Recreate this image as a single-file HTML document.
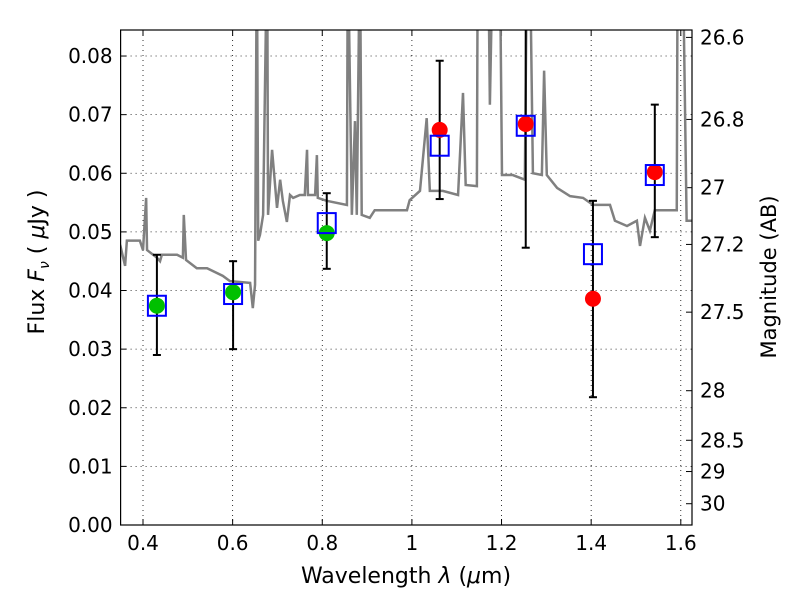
<!DOCTYPE html>
<html><head><meta charset="utf-8"><style>
body{margin:0;background:#fff}
svg text{font-family:"DejaVu Sans","Liberation Sans",sans-serif;fill:#000}
</style></head><body>
<svg id="c" width="800" height="600"></svg>
<script>
const specW=[0.349,0.360,0.364,0.393,0.400,0.407,0.409,0.431,0.438,0.442,0.476,0.489,0.491,0.496,0.520,0.543,0.578,0.594,0.639,0.645,0.650,0.654,0.657,0.661,0.668,0.677,0.679,0.688,0.699,0.706,0.712,0.721,0.728,0.735,0.750,0.761,0.766,0.768,0.784,0.788,0.790,0.810,0.855,0.857,0.866,0.873,0.877,0.884,0.888,0.906,0.917,0.944,0.973,0.989,0.995,1.018,1.033,1.040,1.069,1.103,1.114,1.120,1.145,1.147,1.170,1.174,1.181,1.196,1.201,1.225,1.252,1.257,1.263,1.270,1.290,1.295,1.301,1.324,1.353,1.382,1.404,1.442,1.453,1.480,1.502,1.509,1.520,1.531,1.542,1.560,1.591,1.593,1.604,1.613,1.627];
const specF=[0.0478,0.0442,0.0485,0.0485,0.0469,0.0558,0.0469,0.0456,0.0450,0.0461,0.0461,0.0456,0.0529,0.0452,0.0438,0.0438,0.0425,0.0416,0.0413,0.0370,0.0410,0.1,0.0485,0.0495,0.0529,0.1,0.0529,0.0640,0.0541,0.0589,0.0553,0.0517,0.0563,0.0558,0.0563,0.0563,0.0640,0.0563,0.0563,0.0631,0.0558,0.0553,0.0546,0.1,0.0529,0.0689,0.0529,0.1,0.0529,0.0524,0.0537,0.0537,0.0537,0.0537,0.0554,0.0570,0.0694,0.0570,0.0570,0.0563,0.0737,0.0580,0.0578,0.1,0.1,0.0717,0.1,0.1,0.0597,0.0597,0.0589,0.1,0.1,0.0600,0.0597,0.0775,0.0597,0.0575,0.0561,0.0558,0.0546,0.0546,0.0519,0.0510,0.0519,0.0476,0.0524,0.0502,0.0537,0.0537,0.0537,0.1,0.1,0.0519,0.0519];
const bandW=[0.431,0.601,0.810,1.062,1.254,1.404,1.542];
const modelF=[0.0374,0.0394,0.0515,0.0647,0.0681,0.0462,0.0597];
const errHi=[0.0461,0.0450,0.0566,0.0792,0.0900,0.0553,0.0717];
const errLo=[0.0290,0.0300,0.0437,0.0556,0.0473,0.0218,0.0491];
const greenW=[0.431,0.601,0.810];
const greenF=[0.0374,0.0397,0.0498];
const redW=[1.062,1.254,1.404,1.542];
const redF=[0.0674,0.0684,0.0386,0.0602];
const xTicks=[0.4,0.6,0.8,1,1.2,1.4,1.6];
const yTicks=[0,0.01,0.02,0.03,0.04,0.05,0.06,0.07,0.08];
const magTicks=[26.6,26.8,27,27.2,27.5,28,28.5,29,30];

const L=120.6,R=692,T=30,B=525,X0=0.35,X1=1.625,Y0=0,Y1=0.08444;
const sx=w=>L+(w-X0)/(X1-X0)*(R-L);
const sy=f=>B-(f-Y0)/(Y1-Y0)*(B-T);
const svg=document.getElementById('c');
const NS='http://www.w3.org/2000/svg';
function mk(t,a,p){const e=document.createElementNS(NS,t);for(const k in a)e.setAttribute(k,a[k]);(p||svg).appendChild(e);return e;}
const clip=mk('clipPath',{id:'pc'});mk('rect',{x:L,y:T,width:R-L,height:B-T},clip);
xTicks.forEach(v=>{const x=sx(v);
 const g=mk('line',{x1:x,x2:x,y1:T,y2:B,stroke:'#000','stroke-dasharray':'1,4','stroke-width':0.8});
 
 
 mk('line',{x1:x,x2:x,y1:B,y2:B-6,stroke:'#000'});mk('line',{x1:x,x2:x,y1:T,y2:T+6,stroke:'#000'});
 const t=mk('text',{x:x,y:B+25,'text-anchor':'middle','font-size':20});t.textContent=String(v);
 
 });
yTicks.forEach(v=>{const y=sy(v);
 const g=mk('line',{x1:L,x2:R,y1:y,y2:y,stroke:'#000','stroke-dasharray':'1,4','stroke-width':0.8});
 
 
 mk('line',{x1:L,x2:L+6,y1:y,y2:y,stroke:'#000'});
 const t=mk('text',{x:L-8,y:y+7,'text-anchor':'end','font-size':20});t.textContent=v.toFixed(2);
 
 });
magTicks.forEach(m=>{const y=sy(Math.pow(10,(23.9-m)/2.5));
 mk('line',{x1:R,x2:R-6,y1:y,y2:y,stroke:'#000'});
 const t=mk('text',{x:R+8,y:y+7,'font-size':20});t.textContent=String(m);
 
 });
const pg=mk('g',{'clip-path':'url(#pc)'});
const sp=mk('polyline',{points:specW.map((w,i)=>sx(w)+','+sy(specF[i])).join(' '),fill:'none',stroke:'#808080','stroke-width':2.5},pg);


bandW.forEach((w,i)=>{const x=sx(w);
 const e=mk('g',{},pg);
 
 
 mk('line',{x1:x,x2:x,y1:sy(errHi[i]),y2:sy(errLo[i]),stroke:'#000','stroke-width':2},e);
 mk('line',{x1:x-4,x2:x+4,y1:sy(errHi[i]),y2:sy(errHi[i]),stroke:'#000','stroke-width':2},e);
 mk('line',{x1:x-4,x2:x+4,y1:sy(errLo[i]),y2:sy(errLo[i]),stroke:'#000','stroke-width':2},e);});
greenW.forEach((w,i)=>{const c=mk('circle',{cx:sx(w),cy:sy(greenF[i]),r:8,fill:'#00c000'},pg);
 
 });
redW.forEach((w,i)=>{const c=mk('circle',{cx:sx(w),cy:sy(redF[i]),r:8,fill:'#ff0000'},pg);
 
 });
bandW.forEach((w,i)=>{const r=mk('rect',{x:sx(w)-9,y:sy(modelF[i])-10,width:18,height:20,fill:'none',stroke:'#0000ff','stroke-width':2},pg);
 
 });
const fr=mk('rect',{x:L,y:T,width:R-L,height:B-T,fill:'none',stroke:'#000','stroke-width':1.2});


const xl=mk('text',{x:406,y:583,'text-anchor':'middle','font-size':22,'xml:space':'preserve'});xl.innerHTML='Wavelength  <tspan font-style="italic">λ</tspan> (<tspan font-style="italic">μ</tspan>m)';


const yl=mk('text',{x:0,y:0,'text-anchor':'middle','font-size':22,transform:'translate(44,262) rotate(-90)','xml:space':'preserve'});yl.innerHTML='Flux  <tspan font-style="italic">F</tspan><tspan font-size="14" font-style="italic" dy="5">ν</tspan><tspan dy="-5">  (  </tspan><tspan font-style="italic">μ</tspan>Jy )';


const rl=mk('text',{x:0,y:0,'text-anchor':'middle','font-size':21,transform:'translate(776,277) rotate(-90)'});rl.textContent='Magnitude (AB)';


</script>
</body></html>
